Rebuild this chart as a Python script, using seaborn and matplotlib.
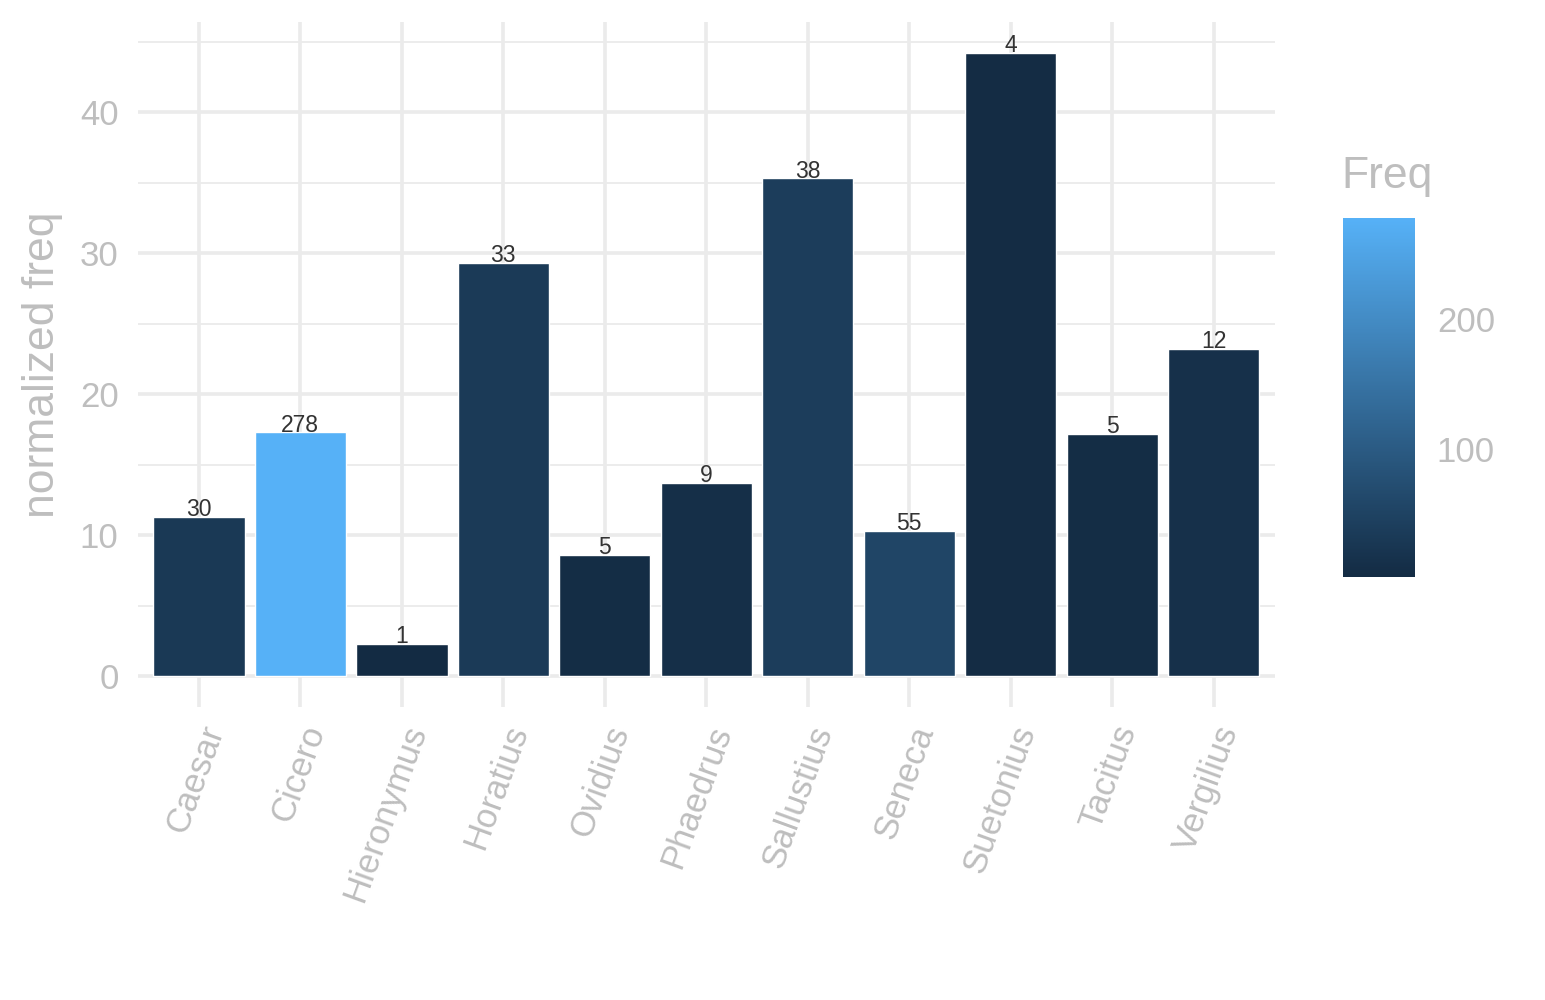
import numpy as np
import pandas as pd
import matplotlib
matplotlib.use("Agg")
import matplotlib.pyplot as plt
import matplotlib.colors as mcolors
from matplotlib.cm import ScalarMappable
import seaborn as sns

# values
authors = ['Caesar', 'Cicero', 'Hieronymus', 'Horatius', 'Ovidius', 'Phaedrus',
           'Sallustius', 'Seneca', 'Suetonius', 'Tacitus', 'Vergilius']
norm_freq = [11.3, 17.3, 2.3, 29.3, 8.6, 13.7, 35.3, 10.3, 44.2, 17.2, 23.2]
freq = [30, 278, 1, 33, 5, 9, 38, 55, 4, 5, 12]

df = pd.DataFrame({'author': authors, 'norm': norm_freq, 'Freq': freq})

sns.set_style("whitegrid")
plt.rcParams['font.family'] = ['Liberation Sans', 'DejaVu Sans']

grey = '#BEBEBE'
cmap = mcolors.LinearSegmentedColormap.from_list('gg', ['#132B43', '#56B1F7'])
cnorm = mcolors.Normalize(vmin=min(freq), vmax=max(freq))
palette = {a: cmap(cnorm(f)) for a, f in zip(authors, freq)}

fig = plt.figure(figsize=(15.45, 10), dpi=100)
ax = fig.add_axes([0.0893, 0.293, 0.7357, 0.685])

sns.barplot(data=df, x='author', y='norm', hue='author', palette=palette,
            legend=False, width=0.9, saturation=1, ax=ax)

for i, (v, f) in enumerate(zip(norm_freq, freq)):
    ax.text(i, v + 0.5, str(f), ha='center', va='center', fontsize=16.5, color='#333333')

ax.set_xlim(-0.6, len(authors) - 0.4)
ax.set_ylim(-2.2, 46.4)
ax.set_yticks([0, 10, 20, 30, 40])
ax.set_yticks([5, 15, 25, 35, 45], minor=True)
ax.grid(True, which='major', color='#EBEBEB', linewidth=2.6)
ax.grid(True, which='minor', axis='y', color='#EBEBEB', linewidth=1.3)
ax.set_axisbelow(True)
for s in ax.spines.values():
    s.set_visible(False)

ax.tick_params(axis='both', which='both', length=0, labelcolor=grey, labelsize=25)
ax.tick_params(axis='y', pad=14)
ax.tick_params(axis='x', pad=10)
plt.setp(ax.get_xticklabels(), rotation=70, ha='right', rotation_mode='anchor')
ax.set_xlabel('')
ax.set_ylabel('normalized freq', color=grey, fontsize=32, labelpad=12)

# colour bar for Freq
cax = fig.add_axes([0.869, 0.423, 0.0466, 0.359])
sm = ScalarMappable(norm=cnorm, cmap=cmap)
cb = fig.colorbar(sm, cax=cax)
cb.outline.set_visible(False)
cb.set_ticks([100, 200])
cax.tick_params(axis='y', direction='in', left=True, right=True, color='white',
                length=10, width=1.2, labelcolor=grey, labelsize=25, pad=16)
fig.text(0.868, 0.803, 'Freq', color=grey, fontsize=32, ha='left', va='bottom')

fig.savefig('out.png', dpi=100)
